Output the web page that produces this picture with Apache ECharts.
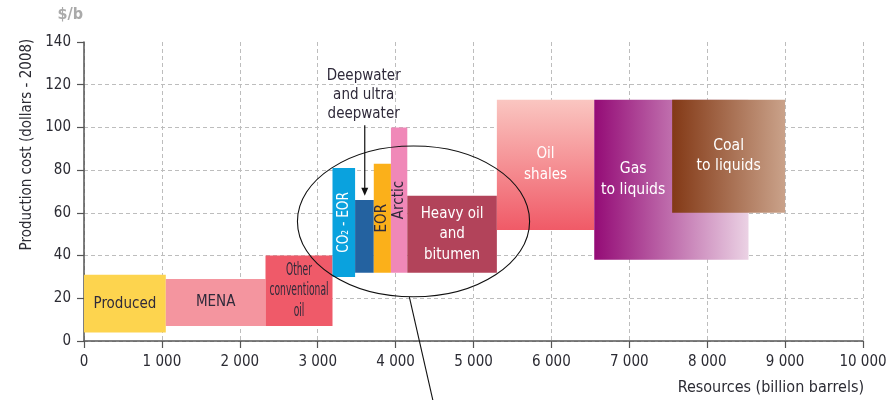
<!DOCTYPE html>
<html>
<head>
<meta charset="utf-8">
<script src="https://cdn.jsdelivr.net/npm/echarts@6/dist/echarts.min.js"></script>
<style>
  html, body { margin: 0; padding: 0; background: #fff; }
  #chart { width: 890px; height: 400px; }
</style>
</head>
<body>
<div id="chart"></div>
<script>
// Supply cost curve: each block spans a resource range (billion barrels)
// and a production cost range (dollars per barrel, 2008).
const names = ['Produced', 'MENA', 'Other conventional oil', 'CO2 - EOR',
  'Deepwater and ultra deepwater', 'EOR', 'Arctic', 'Heavy oil and bitumen',
  'Oil shales', 'Gas to liquids', 'Coal to liquids'];
const labels = ['Produced', 'MENA', 'Other\nconventional\noil', 'CO\u2082 - EOR',
  '', 'EOR', 'Arctic', 'Heavy oil\nand\nbitumen',
  'Oil\nshales', 'Gas\nto liquids', 'Coal\nto liquids'];
const resourceStart = [0, 1050, 2330, 3190, 3480, 3720, 3940, 4150, 5300, 6550, 7550];
const resourceEnd   = [1050, 2330, 3190, 3480, 3720, 3940, 4150, 5300, 6550, 8530, 9000];
const costLow  = [4, 7, 7, 30, 32, 32, 32, 32, 52, 38, 60];
const costHigh = [31, 29, 40, 81, 66, 83, 100, 68, 113, 113, 113];
const xTicks = [0, 1000, 2000, 3000, 4000, 5000, 6000, 7000, 8000, 9000, 10000];
const yTicks = [0, 20, 40, 60, 80, 100, 120, 140];

const FONT = '"DejaVu Sans Condensed", "DejaVu Sans", sans-serif';
const DARK = '#2f2a3a';

const grad = (x0, y0, x1, y1, a, b) => new echarts.graphic.LinearGradient(x0, y0, x1, y1,
  [{ offset: 0, color: a }, { offset: 1, color: b }]);
const fills = [
  '#fdd44e', '#f4959f', '#ef5a69', '#0aa2de', '#2462a0', '#fbb01a', '#f088b8', '#b2435a',
  grad(0, 0, 0, 1, '#fac6c1', '#f05a67'),
  grad(0, 0, 1, 0, '#940b76', '#ebd2e4'),
  grad(0, 0, 1, 0, '#833916', '#caa28a')
];
const labelColor = [DARK, DARK, DARK, '#fff', DARK, DARK, DARK, '#fff', '#fff', '#fff', '#fff'];
const labelVertical = [false, false, false, true, false, true, true, false, false, false, false];
const labelSize = [15, 15, 17, 15, 15, 15, 15, 15, 15, 15, 15];
// Horizontal squeeze for labels set in a narrower face
const labelSqueeze = [1, 1, 0.6, 0.9, 1, 1, 1, 1, 1, 1.04, 1.04];

// Where a later block covers part of an earlier one, centre the label in the visible part.
const labelRight = resourceEnd.map((end, i) => {
  let r = end;
  for (let j = i + 1; j < names.length; j++) {
    if (resourceStart[j] > resourceStart[i] && resourceStart[j] < r) r = resourceStart[j];
  }
  return r;
});

const data = names.map((n, i) => [resourceStart[i], resourceEnd[i], costLow[i], costHigh[i], labelRight[i]]);

const chart = echarts.init(document.getElementById('chart'), null, { renderer: 'canvas' });

const axisText = { color: '#2b2b33', fontSize: 15, fontFamily: FONT };

chart.setOption({
  animation: false,
  textStyle: { fontFamily: FONT },
  grid: { left: 84, right: 27, top: 42, bottom: 59 },
  xAxis: {
    type: 'value', min: xTicks[0], max: xTicks[xTicks.length - 1], interval: xTicks[1] - xTicks[0],
    axisLine: { lineStyle: { color: '#555', width: 1.5 } },
    axisTick: { show: true, length: 7, lineStyle: { color: '#555', width: 1.2 } },
    axisLabel: Object.assign({ margin: 14, formatter: v => String(v).replace(/\B(?=(\d{3})+(?!\d))/g, ' ') }, axisText),
    splitLine: { show: true, lineStyle: { color: '#bdbdbd', type: [4, 3], width: 1 } }
  },
  yAxis: {
    type: 'value', min: yTicks[0], max: yTicks[yTicks.length - 1], interval: yTicks[1] - yTicks[0],
    axisLine: { show: true, lineStyle: { color: '#555', width: 1.5 } },
    axisTick: { show: true, length: 7, lineStyle: { color: '#555', width: 1.2 } },
    axisLabel: Object.assign({ margin: 13 }, axisText),
    splitLine: { show: true, showMaxLine: false, lineStyle: { color: '#bdbdbd', type: [4, 3], width: 1 } }
  },
  series: [{
    type: 'custom',
    data: data,
    encode: { x: [0, 1], y: [2, 3] },
    renderItem: function (params, api) {
      const i = params.dataIndex;
      const tl = api.coord([api.value(0), api.value(3)]);
      const br = api.coord([api.value(1), api.value(2)]);
      const lr = api.coord([api.value(4), api.value(2)]);
      const children = [{
        type: 'rect',
        shape: { x: tl[0], y: tl[1], width: br[0] - tl[0], height: br[1] - tl[1] },
        style: { fill: fills[i] }
      }];
      if (labels[i]) {
        children.push({
          type: 'text',
          x: (tl[0] + lr[0]) / 2,
          y: (tl[1] + br[1]) / 2,
          rotation: labelVertical[i] ? Math.PI / 2 : 0,
          scaleX: labelSqueeze[i],
          style: {
            text: labels[i], fill: labelColor[i], font: labelSize[i] + 'px ' + FONT,
            align: 'center', verticalAlign: 'middle', lineHeight: 20.5
          }
        });
      }
      return { type: 'group', children: children };
    }
  }]
});

// Annotations, anchored in data space.
const px = (x, y) => chart.convertToPixel({ gridIndex: 0 }, [x, y]);
const ellC = px(4230, 56);
const ellE = px(4230 + 1490, 56 + 35.3);
const lnA = px(4177, 20.5);
const lnB = px(4530, -36);
const arA = px(3604, 101);
const arB = px(3604, 68);
const note = px(3590, 115);
const unit = px(0, 140);
const xEnd = px(10000, 0);
const yName = px(0, 92);

chart.setOption({
  graphic: [
    { type: 'ellipse', z: 100,
      shape: { cx: ellC[0], cy: ellC[1], rx: ellE[0] - ellC[0], ry: ellC[1] - ellE[1] },
      style: { fill: null, stroke: '#111', lineWidth: 1.1 } },
    { type: 'line', z: 100, shape: { x1: lnA[0], y1: lnA[1], x2: lnB[0], y2: lnB[1] },
      style: { stroke: '#111', lineWidth: 1.1 } },
    { type: 'line', z: 100, shape: { x1: arA[0], y1: arA[1], x2: arB[0], y2: arB[1] - 6 },
      style: { stroke: '#111', lineWidth: 1.2 } },
    { type: 'polygon', z: 100,
      shape: { points: [[arB[0] - 3.5, arB[1] - 8], [arB[0] + 3.5, arB[1] - 8], [arB[0], arB[1]]] },
      style: { fill: '#111' } },
    { type: 'text', z: 100, x: note[0], y: note[1],
      style: { text: 'Deepwater\nand ultra\ndeepwater', fill: DARK, font: '15px ' + FONT,
        align: 'center', verticalAlign: 'middle', lineHeight: 19 } },
    { type: 'text', z: 100, x: unit[0] - 1, y: unit[1] - 27,
      style: { text: '$/b', fill: '#aaaaaa', font: 'bold 16px ' + FONT, align: 'right', verticalAlign: 'middle' } },
    { type: 'text', z: 100, x: yName[0] - 57, y: yName[1], rotation: Math.PI / 2,
      style: { text: 'Production cost (dollars - 2008)', fill: '#2b2b33', font: '15px ' + FONT,
        align: 'center', verticalAlign: 'middle' } },
    { type: 'text', z: 100, x: xEnd[0] + 1, y: xEnd[1] + 47,
      style: { text: 'Resources (billion barrels)', fill: '#2b2b33', font: '16px ' + FONT,
        align: 'right', verticalAlign: 'middle' } }
  ]
});
</script>
</body>
</html>
